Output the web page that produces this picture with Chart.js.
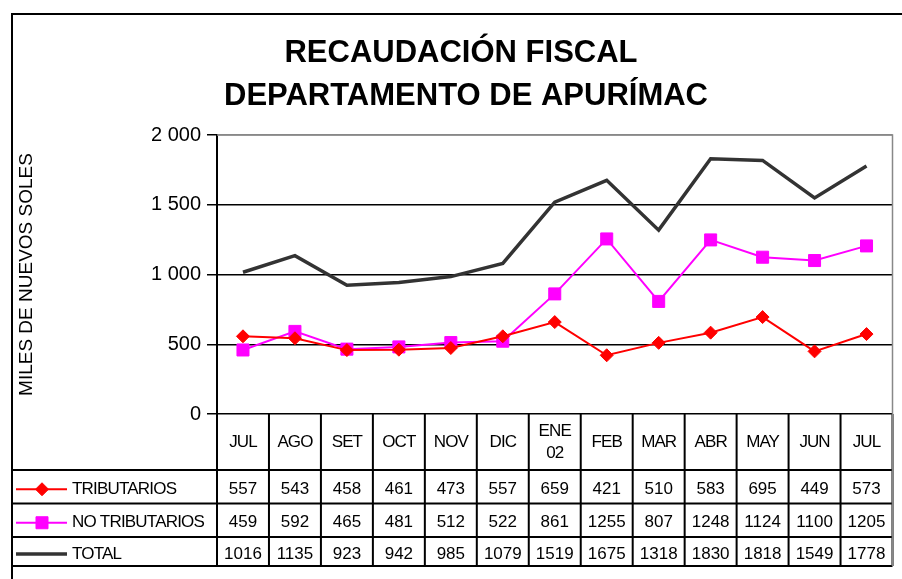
<!DOCTYPE html>
<html><head><meta charset="utf-8">
<script src="https://cdn.jsdelivr.net/npm/chart.js@4"></script>
<style>html,body{margin:0;padding:0;background:#fff;}canvas{display:block;}</style>
</head><body>
<canvas id="c" width="902" height="579"></canvas>
<script>
const titleLines = ['RECAUDACIÓN FISCAL', 'DEPARTAMENTO DE APURÍMAC'];
const yTitle = 'MILES DE NUEVOS SOLES';
const categories = [['JUL'], ['AGO'], ['SET'], ['OCT'], ['NOV'], ['DIC'], ['ENE', '02'], ['FEB'], ['MAR'], ['ABR'], ['MAY'], ['JUN'], ['JUL']];
const seriesNames = ['TRIBUTARIOS', 'NO TRIBUTARIOS', 'TOTAL'];
const tributarios = [557, 543, 458, 461, 473, 557, 659, 421, 510, 583, 695, 449, 573];
const noTributarios = [459, 592, 465, 481, 512, 522, 861, 1255, 807, 1248, 1124, 1100, 1205];
const total = [1016, 1135, 923, 942, 985, 1079, 1519, 1675, 1318, 1830, 1818, 1549, 1778];
const yTicks = [0, 500, 1000, 1500, 2000];

const FONT = '"Liberation Sans", Arial, sans-serif';

function fmt(v) { return String(v).replace(/\B(?=(\d{3})+(?!\d))/g, ' '); }

const tablePlugin = {
  id: 'tablePlugin',
  afterDraw(chart) {
    const ctx = chart.ctx;
    const xs = chart.scales.x;
    const ca = chart.chartArea;
    const n = categories.length;
    const step = (ca.right - ca.left) / n;
    ctx.save();
    // titles
    ctx.fillStyle = '#000';
    ctx.textAlign = 'center';
    ctx.textBaseline = 'middle';
    ctx.font = 'bold 31px ' + FONT;
    ctx.fillText(titleLines[0], 461, 53);
    ctx.fillText(titleLines[1], 466, 96);
    // outer frame
    ctx.strokeStyle = '#000';
    ctx.lineWidth = 2;
    ctx.beginPath();
    ctx.moveTo(12, 579); ctx.lineTo(12, 14); ctx.lineTo(902, 14);
    ctx.stroke();
    // plot right border & top
    ctx.strokeStyle = '#888';
    ctx.lineWidth = 1.5;
    ctx.beginPath();
    ctx.moveTo(ca.left, ca.top); ctx.lineTo(ca.right, ca.top); ctx.lineTo(ca.right, ca.bottom);
    ctx.stroke();
    // table grid
    const rowY = [ca.bottom, 470, 503.5, 537, 566];
    ctx.strokeStyle = '#000';
    ctx.lineWidth = 2;
    ctx.beginPath();
    for (let r = 1; r < rowY.length; r++) { ctx.moveTo(12, rowY[r]); ctx.lineTo(ca.right, rowY[r]); }
    for (let i = 0; i <= n; i++) {
      const x = ca.left + i * step;
      ctx.moveTo(x, ca.bottom); ctx.lineTo(x, rowY[4]);
    }
    ctx.stroke();
    ctx.strokeStyle = '#888';
    ctx.lineWidth = 1.5;
    ctx.beginPath(); ctx.moveTo(ca.right, ca.bottom); ctx.lineTo(ca.right, rowY[4]); ctx.stroke();
    // category labels
    ctx.fillStyle = '#000';
    ctx.font = '17px ' + FONT;
    ctx.textAlign = 'center';
    ctx.letterSpacing = '-0.9px';
    const catMid = (rowY[0] + rowY[1]) / 2;
    categories.forEach((lab, i) => {
      const x = xs.getPixelForValue(i);
      if (lab.length === 1) ctx.fillText(lab[0], x, catMid);
      else { ctx.fillText(lab[0], x, catMid - 11); ctx.fillText(lab[1], x, catMid + 11); }
    });
    // data rows
    const rows = [tributarios, noTributarios, total];
    rows.forEach((vals, r) => {
      const yc = (rowY[r + 1] + rowY[r + 2]) / 2 + 2.5;
      ctx.textAlign = 'center';
      ctx.fillStyle = '#000';
      ctx.letterSpacing = '0px';
      vals.forEach((v, i) => ctx.fillText(String(v), xs.getPixelForValue(i), yc));
      // legend key
      const ds = chart.data.datasets[r];
      ctx.strokeStyle = ds.borderColor;
      ctx.lineWidth = ds.borderWidth;
      ctx.beginPath(); ctx.moveTo(16, yc); ctx.lineTo(67, yc); ctx.stroke();
      if (ds.pointRadius > 0) {
        ctx.fillStyle = ds.backgroundColor;
        ctx.strokeStyle = ds.borderColor;
        ctx.lineWidth = 1;
        Chart.helpers.drawPoint(ctx, { pointStyle: ds.pointStyle, radius: ds.pointRadius, borderWidth: 1, rotation: 0 }, 42, yc);
      }
      ctx.textAlign = 'left';
      ctx.fillStyle = '#000';
      ctx.letterSpacing = '-0.8px';
      ctx.fillText(seriesNames[r], 72, yc);
    });
    ctx.restore();
  }
};

new Chart(document.getElementById('c'), {
  type: 'line',
  data: {
    labels: categories.map(c => c.join(' ')),
    datasets: [
      { label: seriesNames[0], data: tributarios, borderColor: '#ff0000', backgroundColor: '#ff0000', borderWidth: 2, pointStyle: 'rectRot', pointRadius: 6.5, pointBorderWidth: 1, tension: 0 },
      { label: seriesNames[1], data: noTributarios, borderColor: '#ff00ff', backgroundColor: '#ff00ff', borderWidth: 2, pointStyle: 'rect', pointRadius: 8.5, pointBorderWidth: 1, tension: 0 },
      { label: seriesNames[2], data: total, borderColor: '#333333', backgroundColor: '#333333', borderWidth: 3.5, pointRadius: 0, tension: 0 }
    ]
  },
  options: {
    responsive: false,
    animation: false,
    layout: { padding: { left: 0, right: 5, top: 135, bottom: 165 } },
    plugins: { legend: { display: false }, title: { display: false }, tooltip: { enabled: false } },
    scales: {
      x: { display: false, offset: true },
      y: {
        min: 0, max: 2000,
        afterFit(scale) { scale.width = 217; },
        afterBuildTicks(scale) { scale.ticks = yTicks.map(v => ({ value: v })); },
        ticks: { color: '#000', font: { family: FONT, size: 20 }, padding: 6, callback: v => fmt(v) },
        grid: { color: ctx => (ctx.tick && ctx.tick.value === 2000 ? '#888' : '#000'), lineWidth: 1.5, tickLength: 10, tickColor: '#000', drawTicks: true },
        border: { color: '#000', width: 2 },
        title: { display: true, text: yTitle, color: '#000', font: { family: FONT, size: 19 }, padding: { top: 15, bottom: 0 } }
      }
    }
  },
  plugins: [tablePlugin]
});
</script>
</body></html>
